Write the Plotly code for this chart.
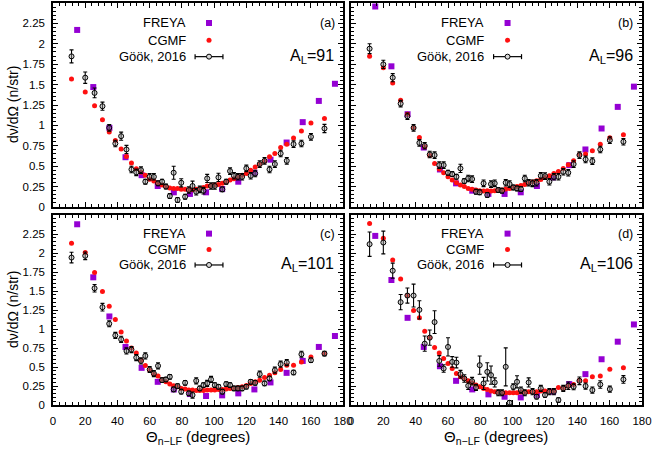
import plotly.graph_objects as go

# angle bins (degrees)
THETA = [11.5, 20.0, 25.8, 30.7, 34.9, 38.7, 42.3, 45.6, 48.7, 51.7,
         54.6, 57.3, 60.0, 62.6, 65.2, 67.7, 70.1, 72.5, 74.9, 77.3,
         79.6, 82.0, 84.3, 86.6, 88.9, 91.1, 93.4, 95.7, 98.1, 100.4,
         102.7, 105.1, 107.5, 109.9, 112.3, 114.8, 117.4, 120.0, 122.7, 125.5,
         128.3, 131.3, 134.4, 137.7, 141.3, 145.1, 149.3, 154.2, 160.1, 168.5]
THETA_FREYA = [15, 25, 35, 45, 55, 65, 75, 85, 95, 105, 115, 125, 135, 145, 155, 165, 175]

# A_L = 91
FREYA_A = [2.17, 1.47, 0.97, 0.61, 0.39, 0.257, 0.18, 0.16, 0.18, 0.22, 0.31, 0.42, 0.58, 0.79, 1.04, 1.30, 1.51]
CGMF_A = [1.57, 1.41, 1.24, 1.07, 0.92, 0.815, 0.71, 0.62, 0.54, 0.47,
          0.425, 0.39, 0.34, 0.32, 0.29, 0.27, 0.25, 0.232, 0.228, 0.228,
          0.216, 0.216, 0.208, 0.212, 0.216, 0.224, 0.24, 0.257, 0.265, 0.27,
          0.277, 0.29, 0.306, 0.33, 0.346, 0.37, 0.39, 0.41, 0.45, 0.49,
          0.525, 0.56, 0.615, 0.655, 0.73, 0.77, 0.845, 0.93, 1.03, 1.085]
GOOK_A = [1.846, 1.585, 1.398, 1.235, 0.97, 0.778, 0.868, 0.705, 0.46, 0.424,
          0.452, 0.31, 0.37, 0.37, 0.29, 0.31, 0.25, 0.134, 0.42, 0.086,
          0.297, 0.126, 0.208, 0.257, 0.187, 0.216, 0.2, 0.35, 0.257, 0.257,
          0.363, 0.216, 0.31, 0.44, 0.383, 0.37, 0.37, 0.473, 0.383, 0.41,
          0.526, 0.566, 0.46, 0.526, 0.656, 0.566, 0.77, 0.778, 0.86, 0.962]
GOOK_A_ERR = [0.08, 0.07, 0.06, 0.05, 0.04, 0.04, 0.05, 0.05, 0.04, 0.04,
              0.04, 0.03, 0.04, 0.04, 0.03, 0.03, 0.03, 0.03, 0.08, 0.03,
              0.05, 0.03, 0.04, 0.06, 0.04, 0.04, 0.04, 0.05, 0.04, 0.04,
              0.05, 0.03, 0.03, 0.04, 0.04, 0.04, 0.04, 0.04, 0.04, 0.04,
              0.04, 0.04, 0.04, 0.04, 0.04, 0.04, 0.04, 0.04, 0.04, 0.05]

# A_L = 96
FREYA_B = [2.457, 1.724, 1.137, 0.729, 0.46, 0.29, 0.2, 0.16, 0.16, 0.18, 0.257, 0.363, 0.513, 0.705, 0.962, 1.227, 1.475]
CGMF_B = [1.846, 1.707, 1.52, 1.308, 1.137, 0.97, 0.852, 0.738, 0.632, 0.534,
          0.465, 0.42, 0.37, 0.33, 0.297, 0.27, 0.25, 0.228, 0.216, 0.208,
          0.2, 0.196, 0.2, 0.196, 0.2, 0.208, 0.208, 0.22, 0.228, 0.24,
          0.25, 0.265, 0.277, 0.29, 0.306, 0.322, 0.338, 0.363, 0.383, 0.41,
          0.436, 0.473, 0.518, 0.566, 0.644, 0.648, 0.689, 0.77, 0.848, 0.884]
GOOK_B = [1.94, 1.748, 1.585, 1.267, 1.112, 0.97, 0.786, 0.75, 0.644, 0.636,
          0.513, 0.513, 0.42, 0.403, 0.37, 0.473, 0.318, 0.35, 0.342, 0.187,
          0.18, 0.29, 0.147, 0.281, 0.29, 0.208, 0.2, 0.297, 0.281, 0.24,
          0.228, 0.22, 0.35, 0.297, 0.29, 0.297, 0.383, 0.379, 0.31, 0.37,
          0.37, 0.432, 0.42, 0.526, 0.636, 0.583, 0.562, 0.705, 0.819, 0.8]
GOOK_B_ERR = [0.06, 0.05, 0.05, 0.04, 0.04, 0.04, 0.04, 0.04, 0.04, 0.04,
              0.04, 0.04, 0.03, 0.03, 0.03, 0.05, 0.03, 0.04, 0.04, 0.03,
              0.03, 0.04, 0.03, 0.04, 0.04, 0.03, 0.03, 0.04, 0.04, 0.03,
              0.03, 0.03, 0.04, 0.04, 0.04, 0.04, 0.04, 0.04, 0.04, 0.04,
              0.04, 0.04, 0.04, 0.04, 0.04, 0.04, 0.04, 0.04, 0.04, 0.04]

# A_L = 101
FREYA_C = [2.378, 1.68, 1.165, 0.764, 0.489, 0.305, 0.205, 0.144, 0.118, 0.127, 0.153, 0.205, 0.297, 0.423, 0.58, 0.764, 0.908]
CGMF_C = [2.129, 2.007, 1.745, 1.492, 1.3, 1.126, 0.96, 0.842, 0.75, 0.685,
          0.589, 0.519, 0.458, 0.406, 0.38, 0.336, 0.305, 0.275, 0.253, 0.24,
          0.218, 0.209, 0.196, 0.196, 0.192, 0.192, 0.192, 0.196, 0.196, 0.196,
          0.205, 0.205, 0.209, 0.218, 0.222, 0.231, 0.24, 0.257, 0.284, 0.305,
          0.327, 0.362, 0.393, 0.423, 0.467, 0.524, 0.524, 0.567, 0.633, 0.676]
GOOK_C = [1.94, 1.963, 1.536, 1.287, 1.069, 0.916, 0.864, 0.711, 0.729, 0.624,
          0.58, 0.646, 0.467, 0.414, 0.515, 0.327, 0.336, 0.371, 0.205, 0.249,
          0.175, 0.292, 0.153, 0.131, 0.318, 0.218, 0.262, 0.284, 0.336, 0.262,
          0.24, 0.175, 0.275, 0.262, 0.218, 0.218, 0.218, 0.24, 0.305, 0.292,
          0.406, 0.284, 0.349, 0.458, 0.537, 0.558, 0.428, 0.668, 0.589, 0.676]
GOOK_C_ERR = [0.07, 0.05, 0.05, 0.05, 0.04, 0.04, 0.04, 0.04, 0.04, 0.04,
              0.04, 0.04, 0.04, 0.04, 0.04, 0.03, 0.03, 0.03, 0.03, 0.03,
              0.03, 0.03, 0.03, 0.04, 0.04, 0.03, 0.03, 0.04, 0.04, 0.03,
              0.03, 0.03, 0.03, 0.03, 0.03, 0.03, 0.03, 0.03, 0.03, 0.03,
              0.04, 0.03, 0.03, 0.04, 0.04, 0.04, 0.03, 0.04, 0.03, 0.03]

# A_L = 106
FREYA_D = [2.225, 1.645, 1.147, 0.764, 0.51, 0.318, 0.205, 0.14, 0.109, 0.1, 0.131, 0.175, 0.275, 0.406, 0.602, 0.833, 1.06]
CGMF_D = [2.387, 2.195, 1.907, 1.658, 1.44, 1.243, 1.147, 0.969, 0.886, 0.755,
          0.685, 0.611, 0.545, 0.48, 0.414, 0.371, 0.349, 0.318, 0.292, 0.262,
          0.24, 0.218, 0.205, 0.183, 0.175, 0.17, 0.161, 0.161, 0.161, 0.161,
          0.161, 0.17, 0.17, 0.175, 0.17, 0.175, 0.183, 0.183, 0.183, 0.188,
          0.231, 0.218, 0.249, 0.27, 0.327, 0.318, 0.371, 0.38, 0.471, 0.489]
GOOK_D = [2.116, 2.138, 1.767, 1.353, 1.44, 1.44, 1.252, 0.807, 0.886, 1.091,
          0.58, 0.48, 0.764, 0.567, 0.558, 0.406, 0.349, 0.253, 0.314, 0.231,
          0.524, 0.284, 0.436, 0.393, 0.297, 0.161, 0.161, 0.502, 0.03, 0.24,
          0.305, 0.196, 0.161, 0.297, 0.175, 0.109, 0.218, 0.131, 0.175, 0.175,
          0.065, 0.218, 0.253, 0.24, 0.318, 0.249, 0.196, 0.27, 0.209, 0.336]
GOOK_D_ERR = [0.16, 0.15, 0.1, 0.1, 0.1, 0.15, 0.12, 0.1, 0.1, 0.15,
              0.07, 0.05, 0.12, 0.07, 0.07, 0.05, 0.05, 0.05, 0.05, 0.04,
              0.12, 0.08, 0.12, 0.12, 0.06, 0.04, 0.04, 0.25, 0.03, 0.04,
              0.08, 0.04, 0.04, 0.06, 0.04, 0.03, 0.04, 0.03, 0.04, 0.04,
              0.03, 0.04, 0.05, 0.04, 0.05, 0.04, 0.04, 0.05, 0.04, 0.05]

PANELS = [
    ("(a)", "91", FREYA_A, CGMF_A, GOOK_A, GOOK_A_ERR),
    ("(b)", "96", FREYA_B, CGMF_B, GOOK_B, GOOK_B_ERR),
    ("(c)", "101", FREYA_C, CGMF_C, GOOK_C, GOOK_C_ERR),
    ("(d)", "106", FREYA_D, CGMF_D, GOOK_D, GOOK_D_ERR),
]

Y_TICKS = [0, 0.25, 0.5, 0.75, 1, 1.25, 1.5, 1.75, 2, 2.25]
Y_TICKTEXT = ["0", "0.25", "0.5", "0.75", "1", "1.25", "1.5", "1.75", "2", "2.25"]

PURPLE = "#9400d3"
RED = "#ff1010"
FONT = "Liberation Sans, Arial, sans-serif"

W, H = 652, 452
X_DOMAINS = [[53 / W, 343 / W], [351 / W, 642 / W]]
Y_DOMAINS = [[1 - 207 / H, 1 - 3 / H], [1 - 405 / H, 1 - 215 / H]]

fig = go.Figure()
shapes = []
annotations = []

for i, (tag, al, freya, cgmf, gook, gerr) in enumerate(PANELS):
    n = "" if i == 0 else str(i + 1)
    xa, ya = "x" + n, "y" + n
    fig.add_trace(go.Scatter(
        x=THETA_FREYA, y=freya, mode="markers", xaxis=xa, yaxis=ya,
        marker=dict(symbol="square", size=6, color=PURPLE), showlegend=False,
    ))
    fig.add_trace(go.Scatter(
        x=THETA, y=cgmf, mode="markers", xaxis=xa, yaxis=ya,
        marker=dict(symbol="circle", size=5, color=RED), showlegend=False,
    ))
    fig.add_trace(go.Scatter(
        x=THETA, y=gook, mode="markers", xaxis=xa, yaxis=ya,
        error_y=dict(type="data", array=gerr, color="black", thickness=1.1, width=2),
        marker=dict(symbol="circle", size=5, color="rgba(160,160,160,0.45)",
                    line=dict(color="black", width=1)),
        showlegend=False,
    ))

    row, col = divmod(i, 2)
    fig.layout["xaxis" + n] = dict(
        domain=X_DOMAINS[col], anchor=ya, range=[0, 180], automargin=False,
        tickmode="linear", tick0=0, dtick=20, ticks="inside", ticklen=5,
        minor=dict(dtick=4, ticks="inside", ticklen=3, tickcolor="black"),
        showticklabels=(row == 1), ticklabelstandoff=4,
        showline=True, linecolor="black", linewidth=1.5, mirror="allticks",
        showgrid=False, zeroline=False, tickcolor="black",
        tickfont=dict(size=11.5, color="black"),
    )
    fig.layout["yaxis" + n] = dict(
        domain=Y_DOMAINS[row], anchor=xa, range=[0, 2.5], automargin=False,
        tickmode="array", tickvals=Y_TICKS, ticktext=Y_TICKTEXT,
        ticks="inside", ticklen=5,
        minor=dict(dtick=0.05, ticks="inside", ticklen=3, tickcolor="black"),
        showticklabels=(col == 0), ticklabelstandoff=4,
        showline=True, linecolor="black", linewidth=1.5, mirror="allticks",
        showgrid=False, zeroline=False, tickcolor="black",
        tickfont=dict(size=11.5, color="black"),
    )

    xr, yr = xa + " domain", ya + " domain"
    ys = [0.902, 0.818, 0.737]
    for label, yy in zip(["FREYA", "CGMF", "Göök, 2016"], ys):
        annotations.append(dict(
            text=label, xref=xr, yref=yr, x=0.465, y=yy, xanchor="right",
            yanchor="middle", showarrow=False, font=dict(size=13, color="black"),
        ))
    sx = 0.538
    shapes.append(dict(type="rect", xref=xr, yref=yr, xsizemode="pixel", ysizemode="pixel",
                       xanchor=sx, yanchor=ys[0], x0=-3, x1=3, y0=-3, y1=3,
                       fillcolor=PURPLE, line=dict(width=0)))
    shapes.append(dict(type="circle", xref=xr, yref=yr, xsizemode="pixel", ysizemode="pixel",
                       xanchor=sx, yanchor=ys[1], x0=-2.5, x1=2.5, y0=-2.5, y1=2.5,
                       fillcolor=RED, line=dict(width=0)))
    shapes.append(dict(type="line", xref=xr, yref=yr, x0=0.49, x1=0.586, y0=ys[2], y1=ys[2],
                       line=dict(color="black", width=1.2)))
    for cx in (0.49, 0.586):
        shapes.append(dict(type="line", xref=xr, yref=yr, ysizemode="pixel", yanchor=ys[2],
                           x0=cx, x1=cx, y0=-2.5, y1=2.5, line=dict(color="black", width=1.2)))
    shapes.append(dict(type="circle", xref=xr, yref=yr, xsizemode="pixel", ysizemode="pixel",
                       xanchor=sx, yanchor=ys[2], x0=-2.5, x1=2.5, y0=-2.5, y1=2.5,
                       fillcolor="rgb(215,215,215)", line=dict(color="black", width=1)))

    annotations.append(dict(
        text=tag, xref=xr, yref=yr, x=0.945, y=0.902, xanchor="center", yanchor="middle",
        showarrow=False, font=dict(size=12.5, color="black"),
    ))
    annotations.append(dict(
        text="A<sub>L</sub>=" + al, xref=xr, yref=yr, x=0.975, y=0.737,
        xanchor="right", yanchor="middle", showarrow=False,
        font=dict(size=16, color="black"),
    ))

for yc in (1 - 105 / H, 1 - 310 / H):
    annotations.append(dict(
        text="dν/dΩ (n/str)", xref="paper", yref="paper", x=13 / W, y=yc,
        textangle=-90, showarrow=False, xanchor="center", yanchor="middle",
        font=dict(size=14, color="black"),
    ))
for xc in (198 / W, 496 / W):
    annotations.append(dict(
        text="Θ<sub>n−LF</sub> (degrees)", xref="paper", yref="paper", x=xc, y=1 - 437 / H,
        showarrow=False, xanchor="center", yanchor="middle",
        font=dict(size=15, color="black"),
    ))

fig.update_layout(
    width=W, height=H,
    margin=dict(l=0, r=0, t=0, b=0),
    paper_bgcolor="white", plot_bgcolor="white",
    font=dict(family=FONT, color="black"),
    shapes=shapes, annotations=annotations,
    showlegend=False,
)

# the page body has a default 8px margin; drop it so the figure sits at the corner
fig.write_html("out.html", config={"displayModeBar": False},
               post_script="document.body.style.margin = '0';")
